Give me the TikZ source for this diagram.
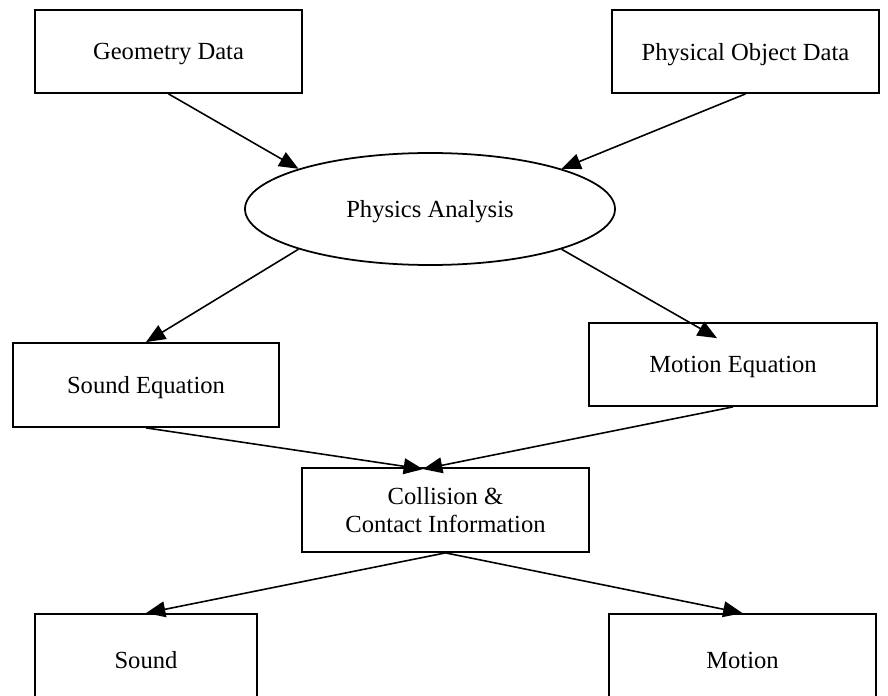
\documentclass[tikz,border=0pt]{standalone}
\usepackage{fontspec}
\setmainfont{Liberation Serif}
\usetikzlibrary{shapes.geometric,arrows.meta,calc}

\begin{document}
\begin{tikzpicture}[
  font=\fontsize{14pt}{15.5pt}\selectfont,
  box/.style={draw, line width=1pt, inner sep=0pt, text depth=0pt},
  arr/.style={line width=0.9pt, -{Triangle[length=11pt,width=9pt]}}
]
\clip (0,0) rectangle (17.76,-13.92);

% data sources
\node[box, minimum width=5.34cm, minimum height=1.66cm] (geo) at (3.37,-1.03) {Geometry Data};
\node[box, minimum width=5.34cm, minimum height=1.66cm] (phys) at (14.91,-1.03) {Physical Object Data};

\node[box, ellipse, minimum width=7.4cm, minimum height=2.24cm] (ana) at (8.6,-4.18) {Physics Analysis};

% equations
\node[box, minimum width=5.32cm, minimum height=1.68cm] (seq) at (2.92,-7.70) {Sound Equation};
\node[box, minimum width=5.76cm, minimum height=1.66cm] (meq) at (14.66,-7.29) {Motion Equation};

\node[box, align=center, minimum width=5.74cm, minimum height=1.68cm] (col) at (8.91,-10.2) {Collision \&\\Contact Information};

% outputs
\node[box, minimum width=4.44cm, minimum height=1.84cm] (snd) at (2.92,-13.2) {Sound};
\node[box, minimum width=5.34cm, minimum height=1.84cm] (mot) at (14.85,-13.2) {Motion};

\coordinate (mtip) at ($(meq.north)+(-0.32,-0.32)$);
\coordinate (cin) at ($(col.north)+(-0.45,-0.04)$);

\draw[arr] (geo.south) -- (ana.163);
\draw[arr] (phys.south) -- (ana.17);
\draw[arr] (ana.197) -- (seq.north);
\draw[arr] (ana.-17) -- (mtip);
\foreach \n in {seq,meq}
{
\draw[arr] (\n.south) -- (cin);
}
\foreach \n in {snd,mot}
{
\draw[arr] (col.south) -- (\n.north);
}

\end{tikzpicture}
\end{document}
